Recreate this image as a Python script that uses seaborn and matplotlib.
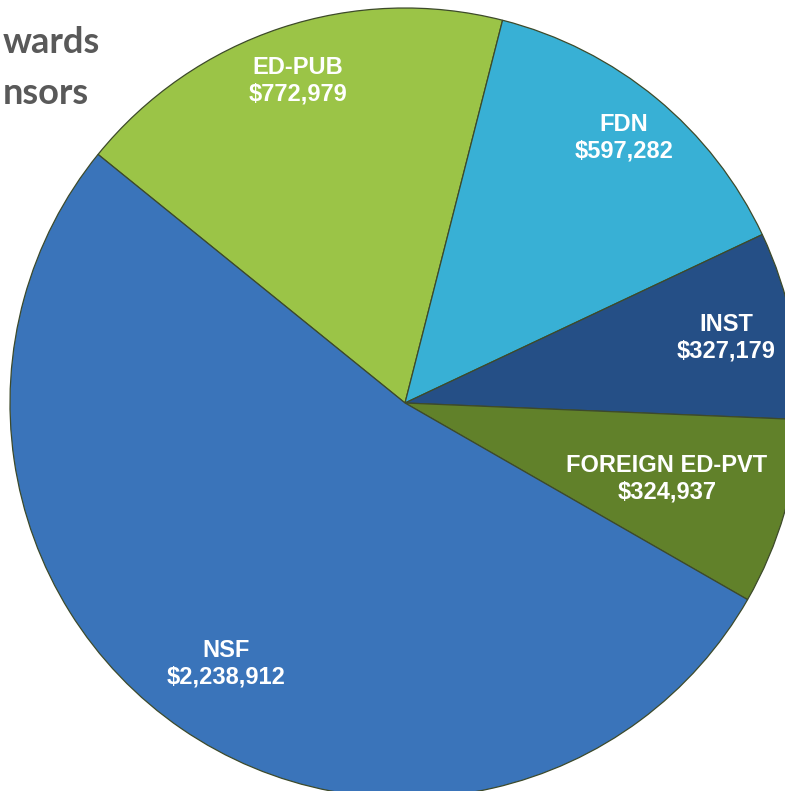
import numpy as np
import seaborn as sns
import matplotlib.pyplot as plt

# Sponsor awards (clockwise from the NSF / ED-PUB boundary)
sponsors = ['ED-PUB', 'FDN', 'INST', 'FOREIGN ED-PVT', 'NSF']
amounts = [772979, 597282, 327179, 324937, 2238912]
colors = ['#9BC447', '#38B0D5', '#254F86', '#61812A', '#3A74BA']
label_dist = [0.86, 0.87, 0.83, 0.69, 0.80]

sns.set_theme(style="white")

fig = plt.figure(figsize=(7.85, 7.91), dpi=100)
ax = fig.add_axes([0, 0, 1, 1])

wedges, _ = ax.pie(amounts, colors=colors, startangle=141, counterclock=False,
                   radius=1.0, center=(0, 0),
                   wedgeprops=dict(edgecolor='#3d4a2a', linewidth=0.9))

for w, name, val, d in zip(wedges, sponsors, amounts, label_dist):
    mid = np.deg2rad((w.theta1 + w.theta2) / 2)
    ax.text(d * np.cos(mid), d * np.sin(mid), f"{name}\n${val:,}",
            ha='center', va='center', color='white', fontsize=17,
            fontweight='bold', family='Liberation Sans', linespacing=1.2)

ax.set_xlim(-405 / 395, 380 / 395)
ax.set_ylim(-388 / 395, 403 / 395)
ax.set_aspect('equal')
ax.axis('off')

# title, only the visible part of the slide title
fig.text(3 / 785, 1 - 53 / 791, 'wards', ha='left', va='baseline',
         fontsize=26, fontweight='bold', color='#595959', family='Lato')
fig.text(3 / 785, 1 - 104 / 791, 'nsors', ha='left', va='baseline',
         fontsize=26, fontweight='bold', color='#595959', family='Lato')

fig.savefig('out.png', dpi=100)
